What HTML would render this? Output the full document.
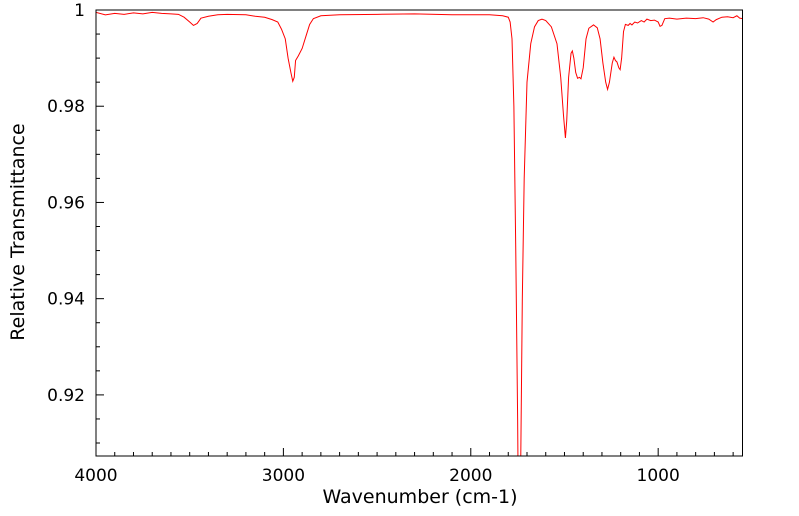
<!DOCTYPE html>
<html><head><meta charset="utf-8"><style>
html,body{margin:0;padding:0;background:#fff;width:799px;height:516px;overflow:hidden;position:relative;}
svg{position:absolute;left:0;top:0;display:block;font-family:"DejaVu Sans","Liberation Sans",sans-serif;}
</style></head><body>
<svg id="chart" width="799" height="516" viewBox="0 0 799 516" overflow="hidden">
<defs><clipPath id="clip"><rect x="96" y="10" width="646.5" height="446"/></clipPath></defs>
<g id="axes"></g>
<path id="series" clip-path="url(#clip)" fill="none" stroke="#ff0000" stroke-width="1"/>
<rect x="96" y="10" width="646.5" height="446" fill="none" stroke="#000" stroke-width="1"/>
<text x="420" y="503" font-size="19" text-anchor="middle">Wavenumber (cm-1)</text>
<text transform="translate(24,232) rotate(-90)" font-size="19" text-anchor="middle">Relative Transmittance</text>
</svg>
<script>
const wavenumbers=[4000,3950,3900,3850,3800,3750,3700,3650,3600,3560,3530,3500,3480,3460,3440,3400,3350,3300,3200,3150,3100,3060,3030,3010,2990,2975,2960,2950,2942,2935,2920,2900,2880,2860,2840,2800,2700,2500,2300,2100,1900,1830,1800,1790,1780,1770,1760,1750,1743,1735,1725,1715,1700,1680,1660,1640,1620,1600,1570,1540,1520,1505,1495,1488,1478,1465,1458,1450,1440,1430,1420,1412,1400,1385,1370,1345,1325,1310,1295,1280,1270,1260,1245,1236,1228,1220,1210,1203,1195,1185,1175,1160,1150,1140,1125,1110,1090,1075,1060,1040,1020,1000,990,980,965,940,900,850,800,760,730,707,690,660,630,600,580,565,550];
const transmittance=[0.9995,0.9990,0.9993,0.9991,0.9994,0.9992,0.9995,0.9993,0.9992,0.9991,0.9985,0.9975,0.9968,0.9972,0.9983,0.9987,0.9990,0.9991,0.9990,0.9987,0.9985,0.9980,0.9975,0.9960,0.9940,0.9900,0.9870,0.9852,0.9860,0.9895,0.9905,0.9920,0.9945,0.9970,0.9982,0.9988,0.9990,0.9991,0.9992,0.9990,0.9990,0.9988,0.9985,0.9975,0.994,0.980,0.950,0.915,0.880,0.900,0.940,0.965,0.985,0.993,0.9965,0.9978,0.9981,0.9978,0.9965,0.993,0.986,0.978,0.9734,0.977,0.986,0.991,0.9915,0.990,0.987,0.9858,0.9860,0.9857,0.988,0.994,0.9962,0.9969,0.9963,0.994,0.989,0.985,0.9835,0.985,0.989,0.9902,0.9895,0.9892,0.9880,0.9876,0.990,0.9955,0.9970,0.9968,0.9972,0.9969,0.9975,0.9973,0.9978,0.9975,0.9981,0.9978,0.9979,0.9975,0.9966,0.9968,0.9982,0.9983,0.9981,0.9983,0.9982,0.9984,0.9981,0.9975,0.9980,0.9985,0.9986,0.9984,0.9988,0.9983,0.9982];
const xTickLabels=[4000,3000,2000,1000];
const yTickLabels=[0.92,0.94,0.96,0.98,1];
const xDomain=[4000,550], yDomain=[0.9073,1];
const X0=96,X1=742.5,Y0=456,Y1=10;
function xs(v){return X0+(v-xDomain[0])/(xDomain[1]-xDomain[0])*(X1-X0);}
function ys(v){return Y0+(v-yDomain[0])/(yDomain[1]-yDomain[0])*(Y1-Y0);}
const NS="http://www.w3.org/2000/svg";
const axes=document.getElementById('axes');
function line(x1,y1,x2,y2,name){const l=document.createElementNS(NS,'line');
l.setAttribute('x1',x1);l.setAttribute('y1',y1);l.setAttribute('x2',x2);l.setAttribute('y2',y2);
l.setAttribute('stroke','#000');l.setAttribute('stroke-width','1');


axes.appendChild(l);}
function text(x,y,s,anchor,name){const t=document.createElementNS(NS,'text');
t.setAttribute('x',x);t.setAttribute('y',y);t.setAttribute('font-size','17');t.setAttribute('text-anchor',anchor);t.textContent=s;


axes.appendChild(t);}
for(let w=4000;w>=600;w-=100){const x=xs(w);const major=w%1000===0;line(x,Y0,x,Y0-(major?8:4),major?'x-major-tick':'x-minor-tick');}
xTickLabels.forEach(v=>text(xs(v),481,String(v),'middle','x-tick-label'));
for(let k=0;k<=18;k++){const v=1-k*0.005;if(v<yDomain[0])break;const y=ys(v);const major=k%4===0;line(X0,y,X0+(major?8:4),y,major?'y-major-tick':'y-minor-tick');}
yTickLabels.forEach(v=>text(85,ys(v)+6,String(v),'end','y-tick-label'));
let d='';wavenumbers.forEach((w,i)=>{d+=(i?'L':'M')+xs(w).toFixed(2)+','+ys(transmittance[i]).toFixed(2);});
document.getElementById('series').setAttribute('d',d);
</script>
</body></html>
